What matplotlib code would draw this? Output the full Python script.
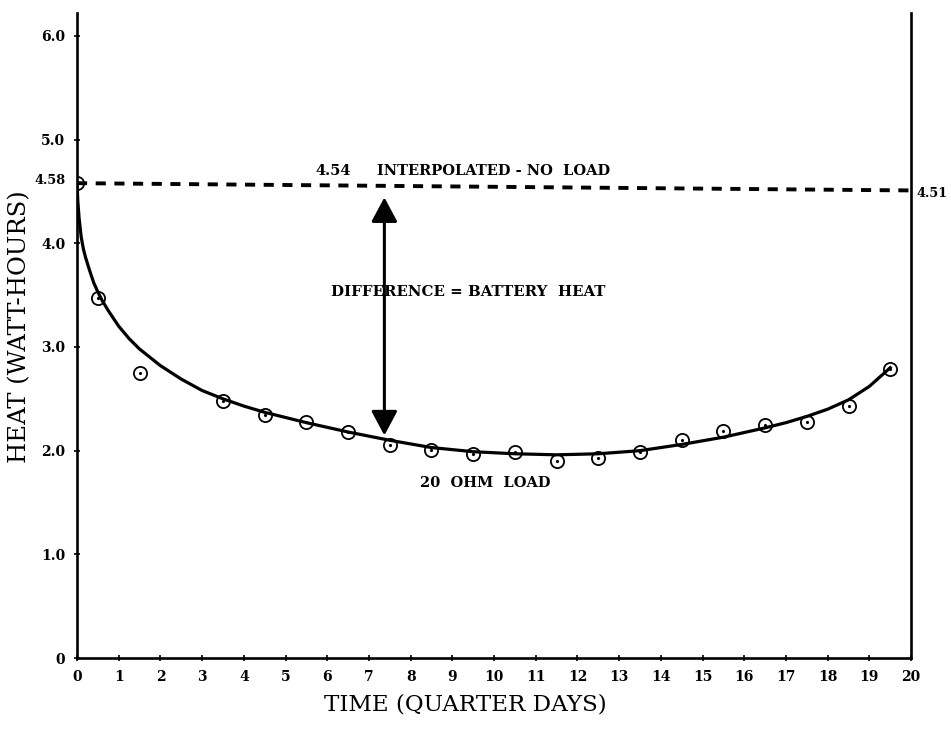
import numpy as np
import matplotlib
matplotlib.use("Agg")
import matplotlib.pyplot as plt
from matplotlib.patches import FancyArrowPatch

plt.rcParams['font.family'] = ['DejaVu Serif']

# measured heat, 20 ohm load
t_obs = [0, 0.5, 1.5, 3.5, 4.5, 5.5, 6.5, 7.5, 8.5, 9.5, 10.5,
         11.5, 12.5, 13.5, 14.5, 15.5, 16.5, 17.5, 18.5, 19.5]
heat_obs = [4.58, 3.47, 2.75, 2.48, 2.34, 2.28, 2.18, 2.05, 2.01, 1.97, 1.99,
            1.90, 1.93, 1.99, 2.10, 2.19, 2.25, 2.28, 2.43, 2.79]

# faired curve through the load points
t_fit = [0, 0.02, 0.05, 0.1, 0.15, 0.2, 0.3, 0.4, 0.5, 0.6, 0.75, 0.9, 1.0,
         1.25, 1.5, 1.75, 2.0, 2.5, 3.0, 3.5, 4.0, 4.5, 5.5, 6.5, 7.5, 8.5,
         9.5, 10.5, 11.5, 12.5, 13.5, 14.5, 15.5, 16.5, 17.0, 17.5, 18.0,
         18.5, 19.0, 19.5]
heat_fit = [4.58, 4.40, 4.24, 4.06, 3.95, 3.87, 3.74, 3.62, 3.53, 3.45, 3.35,
            3.26, 3.20, 3.08, 2.98, 2.90, 2.82, 2.69, 2.58, 2.50, 2.43, 2.37,
            2.27, 2.18, 2.10, 2.03, 1.99, 1.97, 1.96, 1.97, 2.00, 2.06, 2.13,
            2.22, 2.27, 2.33, 2.40, 2.49, 2.62, 2.80]

# interpolated no-load baseline
t_base = [0, 20]
heat_base = [4.58, 4.51]
base_mid = 4.54

xticks = list(range(0, 21))
yticks = [0, 1, 2, 3, 4, 5, 6]
ylabels = ["0", "1.0", "2.0", "3.0", "4.0", "5.0", "6.0"]

fig = plt.figure(figsize=(9.51, 7.30), dpi=100)
ax = fig.add_axes([0.081, 0.0986, 0.877, 0.8834])

ax.plot(t_base, heat_base, color="black", lw=2.8, dashes=(2.6, 2.2),
        solid_capstyle="butt")
ax.plot(t_fit, heat_fit, color="black", lw=2.3, solid_joinstyle="round")
ax.plot(t_obs, heat_obs, "o", ms=9.5, mfc="none", mec="black", mew=1.3)
ax.plot(t_obs, heat_obs, ".", ms=2.5, color="black")

arr = FancyArrowPatch((7.37, 2.12), (7.37, 4.47),
                      arrowstyle="<|-|>,head_length=0.75,head_width=0.4",
                      mutation_scale=20, lw=2.2, color="black")
ax.add_patch(arr)

ax.set_xlim(0, 20)
ax.set_ylim(0, 6.22)
ax.set_xticks(xticks)
ax.set_yticks(yticks)
ax.set_yticklabels(ylabels)
ax.tick_params(direction="inout", length=5, width=1.2, labelsize=10, pad=6)
for lab in ax.get_xticklabels() + ax.get_yticklabels():
    lab.set_fontweight("bold")

ax.spines["top"].set_visible(False)
for s in ["left", "bottom", "right"]:
    ax.spines[s].set_linewidth(1.9)

ax.text(-0.28, heat_base[0] + 0.03, "4.58", ha="right", va="center",
        fontsize=9.3, fontweight="bold")
ax.text(20.12, heat_base[1] - 0.03, "4.51", ha="left", va="center",
        fontsize=9.3, fontweight="bold", clip_on=False)
ax.text(6.15, 4.63, "%.2f" % base_mid, ha="center", va="bottom",
        fontsize=10.5, fontweight="bold")
ax.text(10.0, 4.63, "INTERPOLATED - NO  LOAD", ha="center", va="bottom",
        fontsize=10.5, fontweight="bold")
ax.text(9.37, 3.53, "DIFFERENCE = BATTERY  HEAT", ha="center", va="center",
        fontsize=10.8, fontweight="bold")
ax.text(9.8, 1.69, "20  OHM  LOAD", ha="center", va="center",
        fontsize=10.5, fontweight="bold")

fig.text(0.489, 0.035, "TIME (QUARTER DAYS)", ha="center", va="center",
         fontsize=16.6)
fig.text(0.021, 0.552, "HEAT (WATT-HOURS)", ha="center", va="center",
         rotation=90, fontsize=17.5)

fig.savefig("out.png", dpi=100)
